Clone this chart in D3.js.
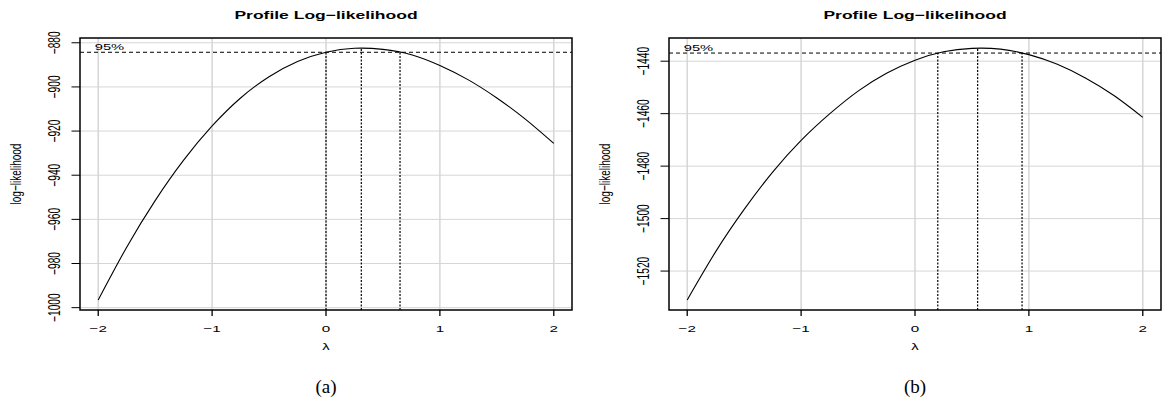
<!DOCTYPE html>
<html>
<head>
<meta charset="utf-8">
<script src="https://cdn.jsdelivr.net/npm/d3@7"></script>
<style>
  body { margin: 0; background: #fff; }
  svg { display: block; }
</style>
</head>
<body>
<svg width="1172" height="412"></svg>
<script>
// lambda grid and profile log-likelihood values
var lambdaGrid = [-2, -1.75, -1.5, -1.25, -1, -0.75, -0.5, -0.25, 0, 0.25, 0.5, 0.75, 1, 1.25, 1.5, 1.75, 2];
var loglikA = [-996.5, -972.6, -951.5, -933.2, -917.7, -905.0, -895.4, -888.5, -884.3, -882.5, -883.0, -885.4, -890.3, -896.8, -905.0, -914.6, -925.6];
var loglikB = [-1531.0, -1512.6, -1496.5, -1482.3, -1470.2, -1460.1, -1451.4, -1444.6, -1439.6, -1436.4, -1435.1, -1435.4, -1437.5, -1441.2, -1446.5, -1453.2, -1461.4];

var xTicks = [-2, -1, 0, 1, 2];
var yTicksA = [-1000, -980, -960, -940, -920, -900, -880];
var yTicksB = [-1520, -1500, -1480, -1460, -1440];

// lower bound, mle, upper bound of the 95% interval
var ciA = [0, 0.31, 0.65];
var ciB = [0.2, 0.55, 0.94];
var maxA = -882.4, cutoffA = -884.3;
var maxB = -1435.0, cutoffB = -1436.9;

var panelTags = ["(a)", "(b)"];

var svg = d3.select("svg");
svg.append("rect").attr("width", 1172).attr("height", 412).attr("fill", "#fff");

var SX = 1.55; // the figure was stretched sideways, text too
var sans = "'Liberation Sans', Arial, Helvetica, sans-serif";
var minus = function(v) { return String(v).replace("-", "\u2212"); };

function txt(g, x, y, s, size, anchor, rot, weight) {
  return g.append("text")
    .attr("transform", "translate(" + x + "," + y + ") scale(" + SX + ",1)" + (rot ? " rotate(-90)" : ""))
    .attr("text-anchor", anchor)
    .attr("font-family", sans)
    .attr("font-size", size)
    .attr("font-weight", weight || "normal")
    .attr("fill", "#000")
    .text(s);
}

function drawPanel(left, loglik, yTicks, ci, maxLL, cutoff, tag) {
  var right = left + 492, top = 38, bottom = 310;
  var g = svg.append("g");

  var x = d3.scaleLinear().domain([-2.16, 2.16]).range([left, right]);
  var ext = d3.extent(loglik.concat([cutoff, maxLL]));
  var pad = (ext[1] - ext[0]) * 0.04;
  var y = d3.scaleLinear().domain([ext[0] - pad, ext[1] + pad]).range([bottom, top]);

  // grid
  g.selectAll(".gx").data(xTicks).enter().append("line")
    .attr("x1", function(d) { return x(d); }).attr("x2", function(d) { return x(d); })
    .attr("y1", top).attr("y2", bottom)
    .attr("stroke", "#d6d6d6").attr("stroke-width", 1.5);
  g.selectAll(".gy").data(yTicks).enter().append("line")
    .attr("x1", left).attr("x2", right)
    .attr("y1", function(d) { return y(d); }).attr("y2", function(d) { return y(d); })
    .attr("stroke", "#d6d6d6").attr("stroke-width", 1);

  // curve
  var line = d3.line()
    .x(function(d) { return x(d[0]); })
    .y(function(d) { return y(d[1]); })
    .curve(d3.curveNatural);
  g.append("path")
    .datum(d3.zip(lambdaGrid, loglik))
    .attr("d", line)
    .attr("fill", "none").attr("stroke", "#000").attr("stroke-width", 1.1);

  // 95% line
  g.append("line")
    .attr("x1", left).attr("x2", right)
    .attr("y1", y(cutoff)).attr("y2", y(cutoff))
    .attr("stroke", "#000").attr("stroke-width", 1).attr("stroke-dasharray", "4,3");
  txt(g, x(-2) - 3.5, y(cutoff) - 2.5, "95%", 9.5, "start");

  // interval verticals
  var tops = [cutoff, maxLL, cutoff];
  g.selectAll(".ci").data(ci).enter().append("line")
    .attr("x1", function(d) { return x(d); }).attr("x2", function(d) { return x(d); })
    .attr("y1", bottom).attr("y2", function(d, i) { return y(tops[i]); })
    .attr("stroke", "#000").attr("stroke-width", 1.2).attr("stroke-dasharray", "2,1.5");

  // box
  g.append("rect")
    .attr("x", left).attr("y", top)
    .attr("width", right - left).attr("height", bottom - top)
    .attr("fill", "none").attr("stroke", "#000").attr("stroke-width", 1.5);

  // x axis
  g.selectAll(".tx").data(xTicks).enter().append("line")
    .attr("x1", function(d) { return x(d); }).attr("x2", function(d) { return x(d); })
    .attr("y1", bottom).attr("y2", bottom + 6)
    .attr("stroke", "#000").attr("stroke-width", 1.3);
  xTicks.forEach(function(d) { txt(g, x(d), 331.5, minus(d), 9.8, "middle"); });
  txt(g, (left + right) / 2, 350, "\u03bb", 9.5, "middle");

  // y axis
  g.selectAll(".ty").data(yTicks).enter().append("line")
    .attr("x1", left - 8.5).attr("x2", left)
    .attr("y1", function(d) { return y(d); }).attr("y2", function(d) { return y(d); })
    .attr("stroke", "#000").attr("stroke-width", 1);
  yTicks.forEach(function(d) { txt(g, left - 20.5, y(d), minus(d), 10.2, "middle", true); });
  txt(g, left - 59.5, (top + bottom) / 2, "log\u2212likelihood", 10, "middle", true);

  // title
  txt(g, (left + right) / 2, 19.3, "Profile Log\u2212likelihood", 11.3, "middle", false, "bold");

  // sub-figure tag
  g.append("text")
    .attr("x", (left + right) / 2).attr("y", 393)
    .attr("text-anchor", "middle")
    .attr("font-family", "'Liberation Serif', 'Times New Roman', serif")
    .attr("font-size", 19)
    .text(tag);
}

drawPanel(80, loglikA, yTicksA, ciA, maxA, cutoffA, panelTags[0]);
drawPanel(669, loglikB, yTicksB, ciB, maxB, cutoffB, panelTags[1]);
</script>
</body>
</html>
